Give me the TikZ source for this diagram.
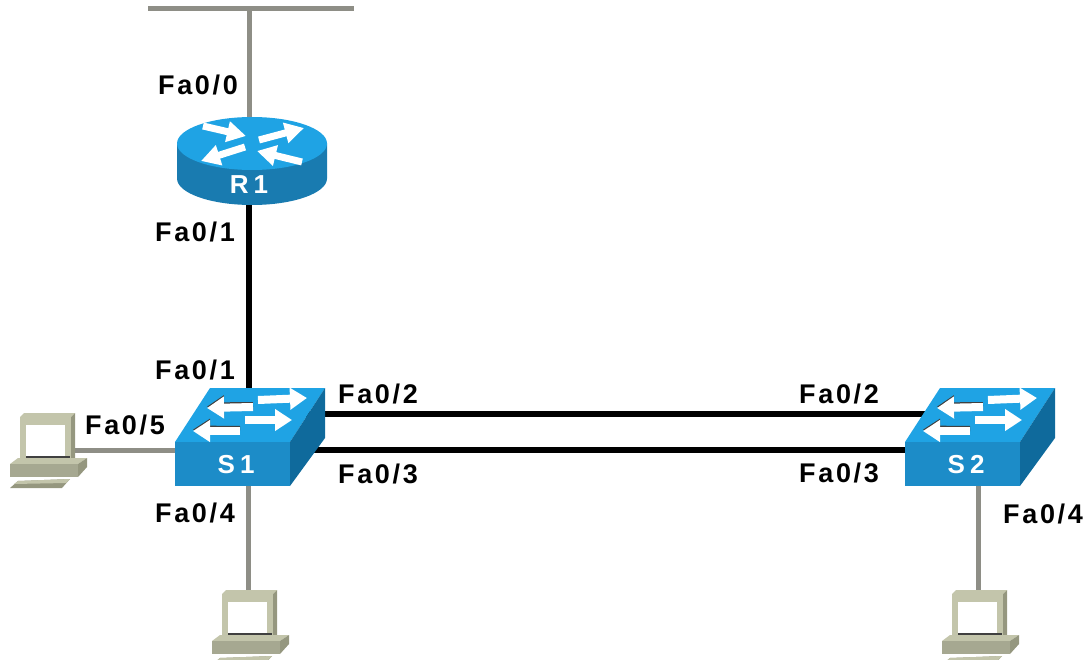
\documentclass[tikz,border=0pt]{standalone}
\usepackage{xcolor}
\usepackage{fontspec}
\usetikzlibrary{arrows.meta, positioning, backgrounds}
\newfontfamily\netfont[LetterSpace=10]{Liberation Sans}
\newfontfamily\devfont[LetterSpace=20]{Liberation Sans}
\definecolor{ciscotop}{HTML}{1FA3E4}
\definecolor{ciscofront}{HTML}{1C8CC8}
\definecolor{ciscodrum}{HTML}{197BB0}
\definecolor{ciscoside}{HTML}{0F6A9C}
\definecolor{pcbeige}{HTML}{C3C5AB}
\definecolor{pcdark}{HTML}{95977F}
\definecolor{greylink}{HTML}{8E8E86}
\tikzset{
  devbox/.style={rectangle, inner sep=0pt, outer sep=0pt},
  devname/.style={font=\devfont\bfseries\fontsize{26}{30}\selectfont, text=white, inner sep=0pt},
  portlabel/.style={inner sep=0pt, font=\netfont\bfseries\fontsize{27}{32}\selectfont},
  iconarrow/.style={white, line width=8pt, -{Triangle[length=17pt, width=21pt]}},
  iconshadow/.style={black!75, line width=8pt, -{Triangle[length=17pt, width=21pt]}},
  routerarrow/.style={white, line width=7pt, -{Triangle[length=19pt, width=20pt]}},
  greywire/.style={line width=5pt, color=greylink},
  blackwire/.style={line width=5.5pt, color=black},
  router/.pic={
    \node[devbox, minimum width=156pt, minimum height=88pt] (-box) at (0,0) {};
    \fill[ciscodrum] (-72,-17.5) -- (-72,17.5) arc (180:360:75pt and 26.5pt) -- (78,-17.5) -- cycle;
    \fill[ciscotop] (3,-17.5) ellipse [x radius=75pt, y radius=26.5pt];
    \draw[routerarrow] (-46,-35) -- (-3,-25);
    \draw[routerarrow] (10,-21) -- (55,-33);
    \draw[routerarrow] (-4,-14) -- (-48,0);
    \draw[routerarrow] (53,1) -- (8,-10);
    \node[devname] (-name) at (0,24) {#1};
  },
  switch/.pic={
    \node[devbox, minimum width=154pt, minimum height=98pt] (-box) at (0,0) {};
    \fill[ciscotop] (-73,5) -- (-38,-49) -- (77,-49) -- (42,5) -- cycle;
    \fill[ciscoside] (42,5) -- (77,-49) -- (77,1) -- (42,49) -- cycle;
    \fill[ciscofront] (-73,5) rectangle (42,49);
    \draw[iconshadow] (5,-31) -- (-41,-30.5);
    \draw[iconshadow] (-8,-7) -- (-55,-7.5);
    \draw[iconarrow] (5,-30) -- (-41,-29);
    \draw[iconarrow] (10,-37) -- (59,-39);
    \draw[iconarrow] (-8,-6) -- (-55,-6);
    \draw[iconarrow] (-3,-17) -- (44,-17);
    \node[devname] (-name) at (-12,28) {#1};
  },
  pc/.pic={
    \node[devbox, minimum width=78pt, minimum height=75pt] (-box) at (0,0) {};
    % monitor
    \fill[pcdark] (-24,-33) -- (27,-37) -- (27,9) -- (22,12) -- cycle;
    \fill[pcbeige] (-28,-33) -- (-24,-37) -- (27,-37) -- (23,-33) -- cycle;
    \fill[pcbeige] (-28,-33) rectangle (23,8);
    \fill[white] (-22,-25) rectangle (17,7);
    \fill[black!75] (-22,6) rectangle (22,9);
    % base and keyboard
    \fill[pcbeige] (-38,14) -- (-30,8) -- (39,8) -- (30,14) -- cycle;
    \fill[pcbeige!85!black] (-38,14) rectangle (30,27);
    \fill[pcdark] (30,14) -- (39,8) -- (39,17) -- (30,27) -- cycle;
    \fill[pcdark] (-30,31) -- (22,29) -- (14,38) -- (-38,38) -- cycle;
    \fill[pcbeige] (-30,31) -- (22,29) -- (18,33) -- (-34,34) -- cycle;
  },
}
\begin{document}
\begin{tikzpicture}[x=1pt, y=-1pt]
  \useasboundingbox (0,0) rectangle (1086,660);

  \coordinate (lanwest) at (148,9);
  \coordinate (laneast) at (354,9);
  \coordinate (lantap)  at (249,9);

  \pic (R1)  at (249,161) {router={R1}};
  \pic (S1)  at (248,437) {switch={S1}};
  \pic (S2)  at (978,437) {switch={S2}};
  \pic (PC1) at (48,450)  {pc};
  \pic (PC2) at (250,627) {pc};
  \pic (PC3) at (980,627) {pc};

  \begin{scope}[on background layer]
    \draw[greywire] (lanwest) -- (laneast);
    \draw[greywire] (lantap) -- (R1-box.north);
    \draw[blackwire] (R1-box.south) -- (R1-box.south |- S1-box.north);
    \draw[blackwire] ([yshift=23pt]S1-box.center) -- ([yshift=23pt]S2-box.center);
    \draw[blackwire] ([yshift=-13pt]S1-box.center) -- ([yshift=-13pt]S2-box.center);
    \draw[greywire] (PC1-box.center) -- (PC1-box.center -| S1-box.center);
    \draw[greywire] (S1-box.south) -- (S1-box.south |- PC2-box.north);
    \draw[greywire] (S2-box.south) -- (S2-box.south |- PC3-box.north);
  \end{scope}

  \node[portlabel, above left=76pt and 51pt of R1-box.center, anchor=center]  (r1fa00) {Fa0/0};
  \node[portlabel, below left=71pt and 54pt of R1-box.center, anchor=center]  (r1fa01) {Fa0/1};
  \node[portlabel, above left=67pt and 53pt of S1-box.center, anchor=center]  (s1fa01) {Fa0/1};
  \node[portlabel, above left=12pt and 123pt of S1-box.center, anchor=center] (s1fa05) {Fa0/5};
  \node[portlabel, above right=43pt and 130pt of S1-box.center, anchor=center] (s1fa02) {Fa0/2};
  \node[portlabel, below right=37pt and 130pt of S1-box.center, anchor=center] (s1fa03) {Fa0/3};
  \node[portlabel, below left=76pt and 53pt of S1-box.center, anchor=center]  (s1fa04) {Fa0/4};
  \node[portlabel, above left=43pt and 139pt of S2-box.center, anchor=center] (s2fa02) {Fa0/2};
  \node[portlabel, below left=36pt and 139pt of S2-box.center, anchor=center] (s2fa03) {Fa0/3};
  \node[portlabel, below right=77pt and 65pt of S2-box.center, anchor=center] (s2fa04) {Fa0/4};
\end{tikzpicture}
\end{document}
